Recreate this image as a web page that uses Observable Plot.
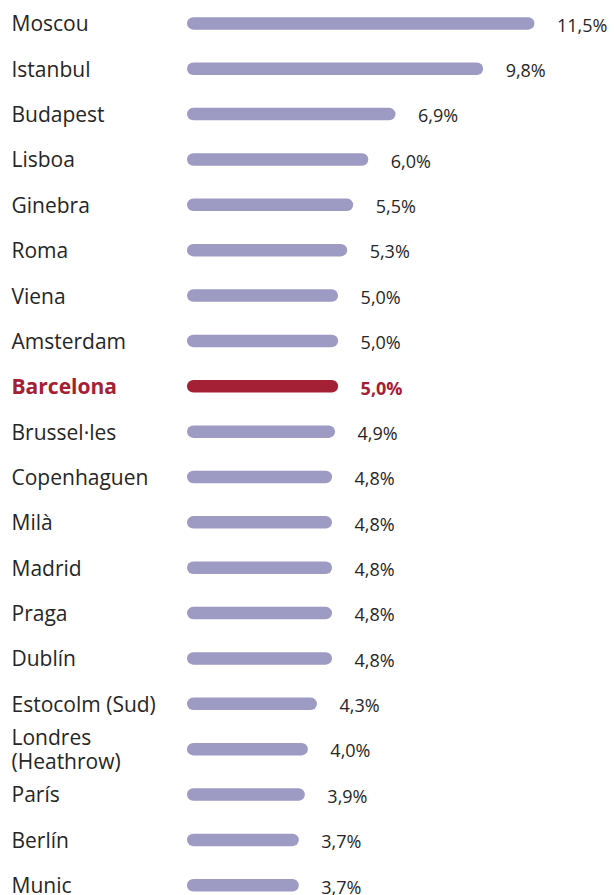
<!DOCTYPE html>
<html>
<head>
<meta charset="utf-8">
<script src="https://cdn.jsdelivr.net/npm/d3@7"></script>
<script src="https://cdn.jsdelivr.net/npm/@observablehq/plot@0.6"></script>
<style>
  html, body { margin: 0; padding: 0; background: #fff; }
  #chart svg { display: block; font-family: "Open Sans", sans-serif; }
</style>
</head>
<body>
<div id="chart"></div>
<script>
const cities = ["Moscou", "Istanbul", "Budapest", "Lisboa", "Ginebra", "Roma", "Viena", "Amsterdam", "Barcelona", "Brussel·les", "Copenhaguen", "Milà", "Madrid", "Praga", "Dublín", "Estocolm (Sud)", "Londres\n(Heathrow)", "París", "Berlín", "Munic"];
const values = [11.5, 9.8, 6.9, 6.0, 5.5, 5.3, 5.0, 5.0, 5.0, 4.9, 4.8, 4.8, 4.8, 4.8, 4.8, 4.3, 4.0, 3.9, 3.7, 3.7];
const highlight = "Barcelona";

const data = cities.map((c, i) => ({city: c, value: values[i], hi: c === highlight}));
const normal = data.filter(d => !d.hi);
const hiData = data.filter(d => d.hi);
const fmt = v => v.toFixed(1).replace(".", ",") + "%";

const W = 614, H = 895;
const step = 45.36, first = 23.4;
const y0 = first - step / 2;
const PURPLE = "#9d9ac4", RED = "#a32035", INK = "#262626";

const labelOpts = (fill, weight) => ({
  y: "city", frameAnchor: "left", dx: 11, textAnchor: "start",
  text: "city", lineAnchor: "middle", lineHeight: 1.11,
  fontSize: 21, letterSpacing: 0.55, fill, fontWeight: weight
});
const valueOpts = (fill, weight) => ({
  y: "city", x: "value", dx: 22, dy: 2, textAnchor: "start",
  text: d => fmt(d.value), lineAnchor: "middle",
  fontSize: 18, letterSpacing: 1.5, fill, fontWeight: weight
});

const chart = Plot.plot({
  width: W,
  height: H,
  margin: 0,
  style: {fontFamily: "Open Sans, sans-serif", background: "#fff"},
  x: {domain: [0, 11.5], range: [187, 534.5], axis: null},
  y: {type: "band", domain: cities, range: [y0, y0 + step * cities.length], padding: 0, round: false, axis: null},
  marks: [
    Plot.barX(data, {
      y: "city", x1: 0, x2: "value",
      fill: d => d.hi ? RED : PURPLE,
      insetTop: (step - 12.5) / 2, insetBottom: (step - 12.5) / 2,
      rx: 6.25
    }),
    Plot.text(normal, labelOpts(INK, "normal")),
    Plot.text(hiData, labelOpts(RED, "bold")),
    Plot.text(normal, valueOpts(INK, "normal")),
    Plot.text(hiData, valueOpts(RED, "bold"))
  ]
});
document.getElementById("chart").append(chart);
</script>
</body>
</html>
